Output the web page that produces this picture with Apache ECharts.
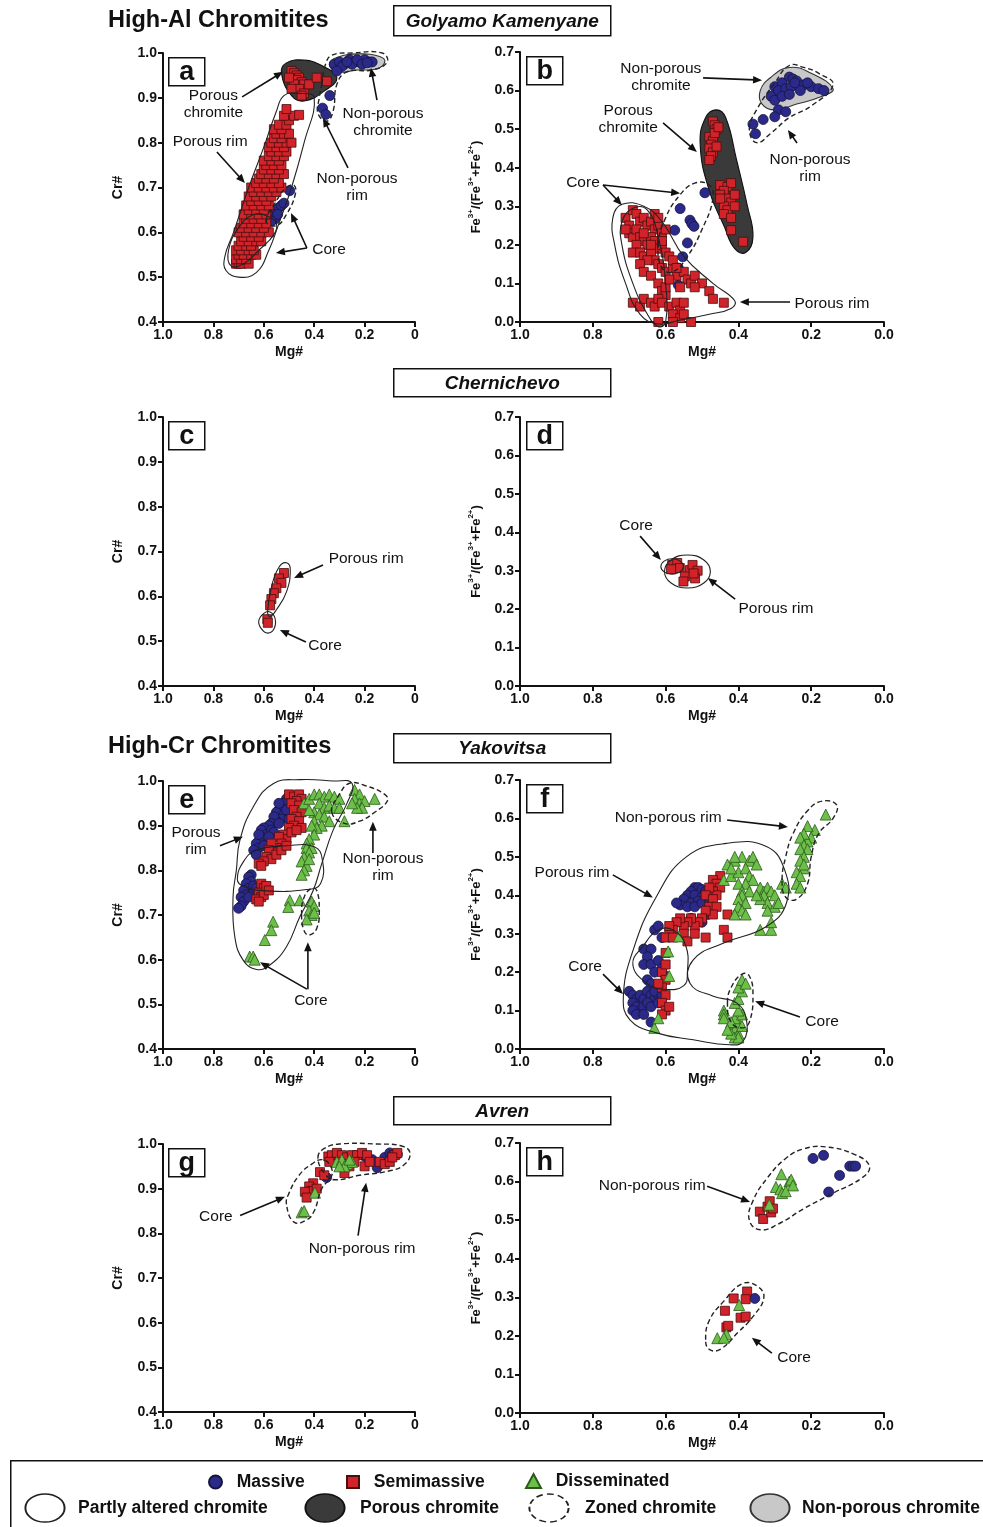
<!DOCTYPE html>
<html><head><meta charset="utf-8">
<script src="https://cdn.jsdelivr.net/npm/echarts@6/dist/echarts.min.js"></script>
<style>html,body{margin:0;padding:0;background:#fff}#c{width:983px;height:1527px}</style>
</head><body><div id="c"></div>
<script>
// ---------------- DATA (x = Mg#, y = Cr# or Fe3+/(Fe3++Fe2+)) ----------------
const xTicks = [1.0, 0.8, 0.6, 0.4, 0.2, 0];
const crTicks = [0.4, 0.5, 0.6, 0.7, 0.8, 0.9, 1.0];
const feTicks = [0.0, 0.1, 0.2, 0.3, 0.4, 0.5, 0.6, 0.7];

// Panel a : Golyamo Kamenyane, Cr# vs Mg#
const a_massive = [[0.32,0.975],[0.30,0.98],[0.28,0.975],[0.26,0.985],[0.24,0.98],[0.22,0.98],[0.20,0.985],[0.18,0.98],[0.17,0.98],[0.25,0.975],[0.29,0.97],[0.31,0.96],[0.23,0.985],[0.21,0.975],[0.19,0.978],[0.27,0.98],
 [0.338,0.905],[0.367,0.877],[0.354,0.863],
 [0.57,0.635],[0.56,0.645],[0.55,0.65],[0.54,0.655],[0.53,0.66],[0.52,0.665],[0.555,0.63],[0.545,0.64],[0.57,0.625],[0.497,0.693]];
const a_semimassive = [
 [0.49,0.96],[0.48,0.955],[0.47,0.95],[0.46,0.945],[0.47,0.94],[0.45,0.935],[0.44,0.93],[0.48,0.93],[0.46,0.92],[0.44,0.91],[0.45,0.905],[0.42,0.93],[0.39,0.945],[0.35,0.937],[0.50,0.945],[0.49,0.92],
 [0.71,0.53],[0.70,0.53],[0.69,0.53],[0.66,0.53],[0.71,0.54],[0.69,0.54],[0.67,0.54],[0.70,0.55],[0.68,0.55],[0.65,0.55],[0.63,0.55],
 [0.71,0.56],[0.69,0.56],[0.66,0.56],[0.64,0.56],[0.70,0.57],[0.67,0.57],[0.65,0.57],[0.69,0.58],[0.66,0.58],[0.63,0.58],[0.61,0.58],
 [0.68,0.59],[0.65,0.59],[0.62,0.59],[0.70,0.60],[0.67,0.60],[0.64,0.60],[0.61,0.60],[0.58,0.60],[0.69,0.61],[0.66,0.61],[0.63,0.61],[0.60,0.61],
 [0.68,0.62],[0.65,0.62],[0.62,0.62],[0.59,0.62],[0.67,0.63],[0.64,0.63],[0.61,0.63],[0.68,0.64],[0.65,0.64],[0.62,0.64],[0.59,0.64],
 [0.66,0.65],[0.63,0.65],[0.60,0.65],[0.67,0.66],[0.64,0.66],[0.61,0.66],[0.58,0.66],[0.65,0.67],[0.62,0.67],[0.59,0.67],
 [0.66,0.68],[0.63,0.68],[0.60,0.68],[0.57,0.68],[0.64,0.69],[0.61,0.69],[0.58,0.69],[0.55,0.69],[0.65,0.70],[0.62,0.70],[0.59,0.70],[0.56,0.70],[0.53,0.70],
 [0.63,0.71],[0.60,0.71],[0.57,0.71],[0.54,0.71],[0.62,0.72],[0.59,0.72],[0.56,0.72],[0.61,0.73],[0.58,0.73],[0.55,0.73],[0.52,0.73],
 [0.60,0.74],[0.57,0.74],[0.54,0.74],[0.59,0.75],[0.56,0.75],[0.53,0.75],[0.60,0.76],[0.57,0.76],[0.54,0.76],[0.58,0.77],[0.55,0.77],[0.52,0.77],
 [0.57,0.78],[0.54,0.78],[0.51,0.78],[0.58,0.79],[0.55,0.79],[0.52,0.79],[0.57,0.80],[0.54,0.80],[0.51,0.80],[0.49,0.80],
 [0.56,0.81],[0.53,0.81],[0.55,0.82],[0.52,0.82],[0.50,0.82],[0.56,0.83],[0.53,0.83],[0.54,0.84],[0.51,0.84],[0.50,0.85],[0.52,0.86],[0.48,0.86],[0.46,0.862],[0.51,0.875]];

// Panel b : Golyamo Kamenyane, Fe3+ ratio vs Mg#
const b_massive = [[0.30,0.61],[0.28,0.62],[0.26,0.635],[0.25,0.63],[0.24,0.625],[0.22,0.615],[0.20,0.61],[0.18,0.605],[0.165,0.60],[0.29,0.60],[0.27,0.605],[0.23,0.60],[0.21,0.62],[0.31,0.585],[0.30,0.575],[0.28,0.585],[0.255,0.61],[0.29,0.55],[0.27,0.545],[0.245,0.62],[0.26,0.59],
 [0.36,0.513],[0.353,0.488],[0.332,0.525],[0.30,0.532],
 [0.56,0.294],[0.492,0.335],[0.533,0.264],[0.528,0.255],[0.522,0.248],[0.575,0.238],[0.54,0.205],[0.553,0.169],[0.565,0.14],[0.567,0.125],[0.565,0.096]];
const b_semimassive = [
 [0.47,0.52],[0.465,0.51],[0.46,0.50],[0.48,0.48],[0.47,0.47],[0.475,0.46],[0.48,0.45],[0.47,0.44],[0.475,0.43],[0.48,0.42],[0.465,0.49],[0.455,0.505],[0.46,0.455],
 [0.45,0.355],[0.43,0.35],[0.42,0.36],[0.44,0.34],[0.45,0.33],[0.43,0.32],[0.42,0.31],[0.44,0.30],[0.43,0.29],[0.45,0.32],[0.41,0.33],[0.44,0.28],[0.42,0.27],[0.41,0.30],[0.42,0.238],[0.387,0.208],
 [0.71,0.27],[0.70,0.25],[0.69,0.29],[0.68,0.28],[0.67,0.26],[0.70,0.23],[0.69,0.22],[0.68,0.24],[0.66,0.27],[0.65,0.25],[0.64,0.26],[0.63,0.24],[0.62,0.25],[0.61,0.23],[0.60,0.24],
 [0.67,0.22],[0.66,0.21],[0.65,0.20],[0.64,0.22],[0.63,0.21],[0.62,0.19],[0.61,0.20],[0.60,0.18],[0.59,0.17],[0.68,0.20],[0.69,0.18],[0.67,0.18],[0.66,0.17],[0.64,0.18],
 [0.63,0.16],[0.62,0.15],[0.61,0.14],[0.60,0.13],[0.58,0.14],[0.57,0.12],[0.55,0.13],[0.54,0.11],[0.53,0.10],[0.52,0.12],[0.50,0.10],[0.48,0.08],[0.47,0.06],[0.44,0.05],
 [0.65,0.16],[0.67,0.15],[0.66,0.13],[0.64,0.12],[0.62,0.10],[0.61,0.08],[0.60,0.07],[0.69,0.05],[0.67,0.04],[0.66,0.06],[0.64,0.05],[0.63,0.04],[0.62,0.06],[0.61,0.05],
 [0.59,0.04],[0.57,0.05],[0.56,0.03],[0.55,0.05],[0.58,0.02],[0.56,0.01],[0.55,0.02],[0.62,0.0],[0.53,0.0],[0.58,0.0],[0.60,0.09],[0.59,0.11],[0.56,0.09],
 [0.63,0.28],[0.62,0.27],[0.66,0.23],[0.61,0.21],[0.71,0.24],[0.64,0.20],[0.58,0.16],[0.57,0.14],[0.52,0.09]];

// Panel c : Chernichevo, Cr# vs Mg#
const c_semimassive = [[0.52,0.652],[0.54,0.64],[0.53,0.63],[0.55,0.618],[0.56,0.607],[0.57,0.594],[0.575,0.58],[0.586,0.549],[0.584,0.541]];

// Panel d : Chernichevo, Fe3+ ratio vs Mg#
const d_semimassive = [[0.582,0.315],[0.568,0.32],[0.561,0.307],[0.585,0.304],[0.533,0.302],[0.526,0.315],[0.512,0.30],[0.547,0.285],[0.551,0.272],[0.519,0.28],[0.523,0.293]];

// Panel e : Yakovitsa, Cr# vs Mg#
const e_massive = [[0.51,0.96],[0.52,0.95],[0.53,0.94],[0.54,0.935],[0.55,0.93],[0.52,0.925],[0.53,0.915],[0.55,0.91],[0.56,0.92],[0.57,0.905],[0.58,0.90],[0.60,0.895],[0.61,0.89],[0.59,0.88],[0.60,0.87],[0.61,0.875],[0.62,0.865],[0.63,0.86],[0.62,0.85],[0.64,0.845],[0.63,0.835],[0.57,0.89],[0.56,0.885],[0.54,0.905],[0.50,0.915],[0.51,0.935],[0.54,0.95],[0.58,0.875],[0.62,0.88],[0.60,0.855],
 [0.65,0.79],[0.66,0.785],[0.65,0.775],[0.67,0.77],[0.66,0.76],[0.68,0.755],[0.64,0.765],[0.67,0.745],[0.69,0.74],[0.68,0.73],[0.69,0.72],[0.70,0.715],[0.64,0.75],[0.63,0.76],[0.66,0.74]];
const e_semimassive = [[0.50,0.97],[0.48,0.965],[0.46,0.97],[0.45,0.96],[0.47,0.955],[0.49,0.95],[0.46,0.945],[0.48,0.935],[0.45,0.93],[0.47,0.92],[0.49,0.915],[0.46,0.91],[0.48,0.90],[0.45,0.895],[0.50,0.895],[0.52,0.88],[0.51,0.87],[0.54,0.875],[0.53,0.86],[0.55,0.85],[0.57,0.86],[0.56,0.84],[0.58,0.845],[0.59,0.83],[0.57,0.825],[0.60,0.82],[0.62,0.815],[0.61,0.81],[0.55,0.835],[0.53,0.845],[0.51,0.855],[0.49,0.885],[0.47,0.89],
 [0.61,0.77],[0.60,0.76],[0.62,0.75],[0.61,0.74],[0.63,0.735],[0.60,0.745],[0.62,0.73],[0.59,0.765],[0.58,0.755]];
const e_disseminated = [[0.44,0.95],[0.42,0.96],[0.40,0.97],[0.38,0.97],[0.36,0.965],[0.34,0.97],[0.32,0.965],[0.30,0.96],[0.38,0.95],[0.36,0.94],[0.34,0.945],[0.32,0.94],[0.40,0.93],[0.38,0.925],[0.36,0.92],[0.34,0.91],[0.30,0.94],[0.28,0.91],[0.42,0.935],[0.40,0.91],[0.37,0.90],[0.39,0.895],[0.41,0.90],[0.40,0.88],[0.42,0.87],[0.43,0.86],[0.41,0.85],
 [0.24,0.98],[0.22,0.97],[0.24,0.96],[0.22,0.95],[0.20,0.955],[0.21,0.94],[0.23,0.94],[0.16,0.96],[0.25,0.95],
 [0.43,0.85],[0.42,0.84],[0.44,0.83],[0.45,0.82],[0.43,0.81],[0.44,0.80],[0.45,0.79],[0.42,0.825],
 [0.497,0.733],[0.457,0.733],[0.503,0.718],[0.563,0.685],[0.57,0.666],[0.596,0.644],[0.656,0.607],[0.642,0.607],[0.636,0.60],
 [0.41,0.73],[0.40,0.72],[0.42,0.71],[0.41,0.70],[0.43,0.69],[0.40,0.705]];

// Panel f : Yakovitsa, Fe3+ ratio vs Mg#
const f_massive = [[0.52,0.42],[0.51,0.42],[0.50,0.415],[0.49,0.41],[0.53,0.41],[0.54,0.40],[0.52,0.40],[0.50,0.395],[0.55,0.39],[0.53,0.38],[0.51,0.385],[0.56,0.375],[0.54,0.37],[0.52,0.37],[0.50,0.38],[0.48,0.39],[0.485,0.35],[0.50,0.33],[0.53,0.34],[0.57,0.38],
 [0.63,0.31],[0.62,0.32],[0.61,0.29],[0.66,0.26],[0.64,0.26],[0.65,0.24],[0.66,0.22],[0.64,0.22],[0.62,0.23],[0.61,0.21],[0.60,0.19],[0.63,0.20],[0.65,0.18],[0.64,0.17],
 [0.70,0.15],[0.69,0.14],[0.68,0.13],[0.67,0.14],[0.66,0.13],[0.65,0.15],[0.64,0.14],[0.63,0.13],[0.69,0.12],[0.68,0.11],[0.67,0.10],[0.66,0.11],[0.65,0.12],[0.64,0.11],[0.62,0.14],[0.63,0.15],[0.69,0.10],[0.68,0.09],[0.66,0.09],[0.64,0.07],[0.62,0.12],[0.61,0.14]];
const f_semimassive = [[0.45,0.45],[0.47,0.44],[0.46,0.43],[0.45,0.42],[0.47,0.41],[0.46,0.40],[0.48,0.42],[0.49,0.40],[0.47,0.39],[0.48,0.37],[0.46,0.37],[0.47,0.35],[0.49,0.36],[0.50,0.34],[0.51,0.33],[0.52,0.32],[0.53,0.34],[0.54,0.33],[0.55,0.32],[0.56,0.34],[0.57,0.33],[0.58,0.31],[0.59,0.30],[0.60,0.29],[0.59,0.32],[0.58,0.29],[0.55,0.30],[0.54,0.28],[0.43,0.35],[0.44,0.31],[0.43,0.29],[0.49,0.29],[0.52,0.30],
 [0.60,0.25],[0.61,0.20],[0.60,0.18],[0.61,0.16],[0.60,0.14],[0.61,0.12],[0.60,0.10],[0.61,0.09],[0.59,0.11],[0.62,0.17],[0.60,0.22]];
const f_disseminated = [[0.44,0.44],[0.42,0.45],[0.40,0.46],[0.41,0.49],[0.39,0.50],[0.37,0.49],[0.36,0.50],[0.35,0.48],[0.38,0.47],[0.37,0.45],[0.36,0.44],[0.38,0.43],[0.40,0.43],[0.39,0.41],[0.37,0.41],[0.39,0.40],[0.40,0.39],[0.38,0.38],[0.40,0.37],[0.39,0.36],[0.41,0.35],[0.38,0.35],
 [0.34,0.42],[0.33,0.41],[0.32,0.42],[0.31,0.41],[0.33,0.40],[0.30,0.40],[0.32,0.38],[0.30,0.37],[0.34,0.39],[0.35,0.40],[0.28,0.43],[0.27,0.42],[0.29,0.38],[0.34,0.31],[0.31,0.31],[0.31,0.33],[0.32,0.36],[0.43,0.48],[0.42,0.47],[0.41,0.50],
 [0.16,0.61],[0.19,0.57],[0.20,0.55],[0.21,0.58],[0.21,0.54],[0.22,0.56],[0.23,0.55],[0.22,0.53],[0.21,0.52],[0.23,0.52],[0.22,0.50],[0.23,0.49],[0.22,0.47],[0.24,0.46],[0.23,0.45],[0.24,0.43],[0.23,0.42],[0.22,0.48],
 [0.44,0.10],[0.44,0.09],[0.44,0.08],[0.42,0.06],[0.41,0.05],[0.40,0.04],[0.41,0.03],[0.40,0.03],[0.42,0.04],[0.40,0.07],[0.41,0.08],[0.39,0.09],[0.40,0.10],[0.41,0.12],[0.40,0.13],[0.39,0.15],[0.40,0.16],[0.39,0.18],[0.38,0.17],[0.42,0.07],[0.39,0.06],[0.43,0.05],
 [0.563,0.293],[0.593,0.254],[0.59,0.19],[0.631,0.055],[0.62,0.08]];

// Panel g : Avren, Cr# vs Mg#
const g_massive = [[0.351,0.925],[0.199,0.972],[0.17,0.965],[0.15,0.947],[0.12,0.97],[0.10,0.98],[0.09,0.975],[0.07,0.977]];
const g_semimassive = [[0.344,0.972],[0.33,0.975],[0.31,0.98],[0.29,0.975],[0.27,0.97],[0.25,0.975],[0.23,0.975],[0.21,0.98],[0.19,0.975],[0.30,0.96],[0.28,0.955],[0.26,0.95],[0.24,0.96],[0.20,0.95],[0.18,0.96],[0.14,0.96],[0.12,0.955],[0.10,0.96],[0.08,0.975],[0.07,0.98],[0.09,0.97],[0.34,0.96],[0.28,0.935],
 [0.377,0.937],[0.36,0.93],[0.404,0.912],[0.42,0.905],[0.41,0.895],[0.39,0.90],[0.437,0.893],[0.43,0.88]];
const g_disseminated = [[0.31,0.96],[0.29,0.965],[0.27,0.955],[0.25,0.96],[0.28,0.95],[0.30,0.95],[0.26,0.965],[0.397,0.891],[0.45,0.847],[0.44,0.85]];

// Panel h : Avren, Fe3+ ratio vs Mg#
const h_massive = [[0.195,0.66],[0.166,0.668],[0.122,0.616],[0.152,0.573],[0.094,0.64],[0.085,0.64],[0.078,0.64],[0.355,0.297]];
const h_semimassive = [[0.341,0.522],[0.332,0.503],[0.32,0.535],[0.314,0.549],[0.31,0.52],[0.305,0.53],[0.413,0.297],[0.376,0.315],[0.38,0.295],[0.437,0.265],[0.394,0.247],[0.38,0.25],[0.433,0.222],[0.428,0.226]];
const h_disseminated = [[0.282,0.619],[0.297,0.586],[0.285,0.58],[0.28,0.57],[0.26,0.60],[0.255,0.605],[0.25,0.59],[0.27,0.575],[0.315,0.54],[0.398,0.28],[0.433,0.204],[0.458,0.194],[0.44,0.195]];

// Envelopes (outline vertices in data units) : kind = partly | porous | zoned | nonporous
const a_envelopes = [
 {kind:'porous', pts:[[0.53,0.955],[0.51,0.978],[0.44,0.984],[0.37,0.972],[0.31,0.945],[0.36,0.915],[0.44,0.893],[0.49,0.905]]},
 {kind:'nonporous', pts:[[0.34,0.975],[0.31,0.99],[0.22,0.998],[0.14,0.992],[0.12,0.98],[0.15,0.965],[0.23,0.962],[0.31,0.958]]},
 {kind:'partly', pts:[[0.755,0.545],[0.72,0.60],[0.66,0.70],[0.60,0.79],[0.55,0.87],[0.52,0.905],[0.46,0.91],[0.40,0.90],[0.44,0.80],[0.49,0.70],[0.54,0.62],[0.58,0.56],[0.63,0.51],[0.70,0.50],[0.75,0.515]]},
 {kind:'partly', pts:[[0.74,0.56],[0.70,0.61],[0.64,0.64],[0.58,0.635],[0.55,0.62],[0.56,0.595],[0.62,0.56],[0.68,0.53],[0.73,0.525]]},
 {kind:'zoned', pts:[[0.59,0.625],[0.55,0.67],[0.51,0.70],[0.48,0.705],[0.475,0.685],[0.51,0.64],[0.55,0.615]]},
 {kind:'zoned', pts:[[0.37,0.93],[0.355,0.975],[0.33,0.995],[0.25,1.0],[0.13,1.0],[0.11,0.98],[0.17,0.962],[0.27,0.958],[0.31,0.93],[0.325,0.87],[0.35,0.848],[0.385,0.865],[0.38,0.90]]}
];
const b_envelopes = [
 {kind:'porous', pts:[[0.505,0.46],[0.49,0.53],[0.46,0.55],[0.435,0.53],[0.405,0.42],[0.375,0.30],[0.36,0.22],[0.38,0.18],[0.41,0.19],[0.44,0.25],[0.48,0.34]]},
 {kind:'nonporous', pts:[[0.34,0.60],[0.31,0.635],[0.26,0.66],[0.20,0.645],[0.14,0.605],[0.17,0.585],[0.24,0.565],[0.30,0.55],[0.335,0.565]]},
 {kind:'zoned', pts:[[0.37,0.50],[0.35,0.55],[0.30,0.62],[0.26,0.665],[0.22,0.66],[0.18,0.645],[0.14,0.615],[0.20,0.56],[0.26,0.53],[0.31,0.49],[0.35,0.465]]},
 {kind:'partly', pts:[[0.745,0.27],[0.72,0.305],[0.66,0.30],[0.61,0.26],[0.55,0.17],[0.47,0.10],[0.41,0.055],[0.42,0.035],[0.48,0.02],[0.56,0.005],[0.62,-0.005],[0.67,0.02],[0.71,0.10],[0.74,0.20]]},
 {kind:'partly', pts:[[0.72,0.26],[0.69,0.295],[0.65,0.29],[0.62,0.22],[0.60,0.10],[0.60,0.0],[0.62,-0.012],[0.65,0.02],[0.69,0.10],[0.72,0.20]]},
 {kind:'zoned', pts:[[0.62,0.20],[0.60,0.27],[0.56,0.33],[0.52,0.36],[0.48,0.355],[0.47,0.32],[0.50,0.24],[0.54,0.17],[0.58,0.13],[0.61,0.14]]}
];
const c_envelopes = [
 {kind:'partly', pts:[[0.585,0.565],[0.57,0.62],[0.54,0.665],[0.51,0.675],[0.495,0.66],[0.51,0.61],[0.55,0.57],[0.575,0.555]]},
 {kind:'partly', pts:[[0.62,0.545],[0.60,0.562],[0.575,0.565],[0.555,0.55],[0.56,0.527],[0.585,0.518],[0.61,0.528]]}
];
const d_envelopes = [
 {kind:'partly', pts:[[0.603,0.298],[0.585,0.328],[0.54,0.341],[0.495,0.328],[0.477,0.298],[0.495,0.268],[0.54,0.255],[0.585,0.268]]},
 {kind:'partly', pts:[[0.613,0.311],[0.604,0.325],[0.582,0.331],[0.56,0.325],[0.551,0.311],[0.56,0.297],[0.582,0.291],[0.604,0.297]]}
];
const e_envelopes = [
 {kind:'partly', pts:[[0.722,0.741],[0.709,0.80],[0.695,0.867],[0.642,0.942],[0.563,0.994],[0.457,1.003],[0.325,1.0],[0.25,0.995],[0.27,0.95],[0.325,0.89],[0.37,0.815],[0.404,0.755],[0.457,0.696],[0.51,0.629],[0.576,0.588],[0.629,0.578],[0.682,0.599],[0.715,0.651]]},
 {kind:'partly', pts:[[0.705,0.78],[0.68,0.82],[0.629,0.845],[0.51,0.855],[0.40,0.853],[0.368,0.825],[0.375,0.77],[0.43,0.757],[0.59,0.754],[0.68,0.764]]},
 {kind:'zoned', pts:[[0.33,0.93],[0.30,0.97],[0.26,0.995],[0.20,0.99],[0.12,0.97],[0.11,0.955],[0.16,0.93],[0.22,0.91],[0.28,0.905]]},
 {kind:'zoned', pts:[[0.45,0.70],[0.44,0.74],[0.41,0.76],[0.39,0.755],[0.38,0.71],[0.39,0.67],[0.42,0.655],[0.44,0.665]]}
];
const f_envelopes = [
 {kind:'partly', pts:[[0.716,0.137],[0.689,0.258],[0.625,0.397],[0.543,0.50],[0.433,0.535],[0.323,0.527],[0.273,0.466],[0.268,0.38],[0.323,0.319],[0.442,0.275],[0.524,0.232],[0.533,0.171],[0.469,0.137],[0.405,0.12],[0.378,0.076],[0.387,0.02],[0.424,0.011],[0.524,0.024],[0.625,0.042],[0.698,0.076]]},
 {kind:'partly', pts:[[0.69,0.22],[0.66,0.27],[0.62,0.31],[0.58,0.31],[0.545,0.27],[0.54,0.20],[0.55,0.165],[0.60,0.155],[0.65,0.17]]},
 {kind:'zoned', pts:[[0.28,0.44],[0.27,0.50],[0.25,0.56],[0.21,0.62],[0.17,0.645],[0.13,0.635],[0.14,0.60],[0.18,0.56],[0.20,0.50],[0.21,0.43],[0.24,0.39],[0.27,0.395]]},
 {kind:'zoned', pts:[[0.43,0.12],[0.42,0.16],[0.39,0.195],[0.37,0.19],[0.36,0.14],[0.37,0.07],[0.39,0.055],[0.42,0.07]]}
];
const g_envelopes = [
 {kind:'zoned', pts:[[0.385,0.97],[0.36,0.99],[0.30,1.0],[0.15,1.0],[0.05,0.995],[0.02,0.98],[0.04,0.955],[0.10,0.94],[0.22,0.93],[0.32,0.92],[0.36,0.935]]},
 {kind:'zoned', pts:[[0.51,0.865],[0.50,0.89],[0.46,0.93],[0.41,0.955],[0.37,0.965],[0.34,0.955],[0.33,0.93],[0.37,0.90],[0.40,0.85],[0.43,0.83],[0.48,0.825]]}
];
const h_envelopes = [
 {kind:'zoned', pts:[[0.37,0.50],[0.36,0.55],[0.32,0.61],[0.27,0.66],[0.22,0.685],[0.16,0.69],[0.08,0.67],[0.04,0.64],[0.06,0.61],[0.14,0.57],[0.22,0.53],[0.29,0.49],[0.34,0.475]]},
 {kind:'zoned', pts:[[0.49,0.19],[0.48,0.24],[0.44,0.29],[0.39,0.335],[0.35,0.33],[0.33,0.30],[0.36,0.25],[0.40,0.21],[0.45,0.165],[0.48,0.165]]}
];

// Annotations (label position and arrows in data units)
const a_notes = [
 {t:'Porous\nchromite', p:[0.80,0.886], ar:[[0.686,0.902,0.524,0.958]]},
 {t:'Porous rim', p:[0.813,0.801], ar:[[0.786,0.779,0.675,0.71]]},
 {t:'Non-porous\nchromite', p:[0.127,0.846], ar:[[0.151,0.895,0.175,0.967]]},
 {t:'Non-porous\nrim', p:[0.23,0.70], ar:[[0.266,0.744,0.365,0.855]]},
 {t:'Core', p:[0.341,0.561], ar:[[0.429,0.565,0.552,0.554],[0.429,0.565,0.492,0.643]]}];
const b_notes = [
 {t:'Non-porous\nchromite', p:[0.613,0.635], ar:[[0.497,0.633,0.335,0.627]]},
 {t:'Porous\nchromite', p:[0.703,0.526], ar:[[0.607,0.516,0.514,0.441]]},
 {t:'Non-porous\nrim', p:[0.203,0.399], ar:[[0.239,0.464,0.264,0.498]]},
 {t:'Core', p:[0.827,0.36], ar:[[0.772,0.355,0.56,0.334],[0.772,0.355,0.72,0.303]]},
 {t:'Porous rim', p:[0.143,0.047], ar:[[0.258,0.052,0.396,0.052]]}];
const c_notes = [
 {t:'Porous rim', p:[0.194,0.683], ar:[[0.365,0.670,0.48,0.641]]},
 {t:'Core', p:[0.357,0.489], ar:[[0.433,0.498,0.536,0.525]]}];
const d_notes = [
 {t:'Core', p:[0.681,0.417], ar:[[0.67,0.39,0.613,0.328]]},
 {t:'Porous rim', p:[0.297,0.202], ar:[[0.409,0.226,0.484,0.281]]}];
const e_notes = [
 {t:'Porous\nrim', p:[0.869,0.866], ar:[[0.774,0.855,0.683,0.875]]},
 {t:'Non-porous\nrim', p:[0.127,0.806], ar:[[0.167,0.839,0.167,0.909]]},
 {t:'Core', p:[0.413,0.509], ar:[[0.429,0.534,0.615,0.594],[0.425,0.534,0.425,0.639]]}];
const f_notes = [
 {t:'Non-porous rim', p:[0.593,0.601], ar:[[0.431,0.596,0.264,0.578]]},
 {t:'Porous rim', p:[0.857,0.459], ar:[[0.745,0.453,0.635,0.394]]},
 {t:'Core', p:[0.821,0.213], ar:[[0.772,0.195,0.717,0.143]]},
 {t:'Core', p:[0.17,0.07], ar:[[0.231,0.083,0.354,0.124]]}];
const g_notes = [
 {t:'Core', p:[0.79,0.837], ar:[[0.694,0.84,0.516,0.882]]},
 {t:'Non-porous rim', p:[0.21,0.766], ar:[[0.226,0.795,0.194,0.913]]}];
const h_notes = [
 {t:'Non-porous rim', p:[0.637,0.589], ar:[[0.486,0.588,0.368,0.547]]},
 {t:'Core', p:[0.247,0.143], ar:[[0.308,0.155,0.363,0.195]]}];

const panelLetters = ['a','b','c','d','e','f','g','h'];
const localityNames = ['Golyamo Kamenyane','Chernichevo','Yakovitsa','Avren'];
const groupTitles = ['High-Al Chromitites','High-Cr Chromitites'];
const legendMarkers = ['Massive','Semimassive','Disseminated'];
const legendEnvelopes = ['Partly altered chromite','Porous chromite','Zoned chromite','Non-porous chromite'];

// ---------------- CHART ----------------
const FONT = '"Liberation Sans", Arial, Helvetica, sans-serif';
const INK = '#111';
const panels = [
 {m:a_massive, s:a_semimassive, d:[], env:a_envelopes, notes:a_notes},
 {m:b_massive, s:b_semimassive, d:[], env:b_envelopes, notes:b_notes},
 {m:[], s:c_semimassive, d:[], env:c_envelopes, notes:c_notes},
 {m:[], s:d_semimassive, d:[], env:d_envelopes, notes:d_notes},
 {m:e_massive, s:e_semimassive, d:e_disseminated, env:e_envelopes, notes:e_notes},
 {m:f_massive, s:f_semimassive, d:f_disseminated, env:f_envelopes, notes:f_notes},
 {m:g_massive, s:g_semimassive, d:g_disseminated, env:g_envelopes, notes:g_notes},
 {m:h_massive, s:h_semimassive, d:h_disseminated, env:h_envelopes, notes:h_notes}
];
const GRIDS = [
 {left:163, top:53, width:252, height:269},
 {left:520, top:52, width:364, height:270},
 {left:163, top:417, width:252, height:269},
 {left:520, top:417, width:364, height:269},
 {left:163, top:781, width:252, height:268},
 {left:520, top:780, width:364, height:269},
 {left:163, top:1144, width:252, height:268},
 {left:520, top:1143, width:364, height:270}
];
const ENV_STYLE = {
 partly:{fill:'rgba(0,0,0,0)', stroke:'#222', lineWidth:1.1},
 porous:{fill:'#3a3a3a', stroke:'#111', lineWidth:1.1},
 zoned:{fill:'rgba(0,0,0,0)', stroke:'#222', lineWidth:1.4, lineDash:[5,3]},
 nonporous:{fill:'#c8c8c8', stroke:'#333', lineWidth:1.1}
};
const MARK = {
 Massive:{symbol:'circle', size:10, color:'#2b2a8a', border:'#15153a'},
 Semimassive:{symbol:'rect', size:9, color:'#d1232a', border:'#4a0e0e'},
 Disseminated:{symbol:'triangle', size:11, color:'#6cbf48', border:'#2c5a1c'}
};
const axisText = {fontWeight:'bold', fontSize:14, fontFamily:FONT, color:INK};

const xAxis = GRIDS.map((g,i)=>({
 gridIndex:i, type:'value', min:0, max:1, interval:0.2, inverse:true, position:'bottom',
 name:'Mg#', nameLocation:'middle', nameGap:23, nameTextStyle:axisText,
 axisLine:{onZero:false, lineStyle:{color:INK, width:2}},
 axisTick:{length:5, lineStyle:{color:INK, width:2}},
 axisLabel:Object.assign({margin:6, formatter: v => (i%2===0 && Math.abs(v)<1e-9) ? '0' : v.toFixed(1)}, axisText),
 splitLine:{show:false}
}));
const yAxis = GRIDS.map((g,i)=>{
 const left = i%2===0;
 return {
  gridIndex:i, type:'value', min: left?0.4:0, max: left?1.0:0.7, interval:0.1, position:'left',
  name: left ? 'Cr#' : '{n|Fe}{s|3+}{n|/(Fe}{s|3+}{n|+Fe}{s|2+}{n|)}',
  nameLocation:'middle', nameGap: left?38:37,
  nameTextStyle: left ? axisText : {rich:{
    n:{fontSize:13, fontWeight:'bold', fontFamily:FONT, color:INK, lineHeight:16, verticalAlign:'bottom'},
    s:{fontSize:8, fontWeight:'bold', fontFamily:FONT, color:INK, lineHeight:8, verticalAlign:'top'}}},
  axisLine:{onZero:false, lineStyle:{color:INK, width:2}},
  axisTick:{length:5, lineStyle:{color:INK, width:2}},
  axisLabel:Object.assign({margin:6, formatter: v => v.toFixed(1)}, axisText),
  splitLine:{show:false}
 };
});

const series = [];
panels.forEach((p,i)=>{
 const back = p.env.filter(e=>e.kind==='porous'||e.kind==='nonporous');
 const front = p.env.filter(e=>e.kind==='partly'||e.kind==='zoned');
 const envSeries = (list, z) => ({
  type:'custom', xAxisIndex:i, yAxisIndex:i, z:z, silent:true, clip:false,
  data:list.map((e,k)=>[0.5,0.5,k]), encode:{x:0,y:1},
  renderItem:(params, api)=>{
    const e = list[api.value(2)];
    return {type:'polygon', shape:{points:e.pts.map(pt=>api.coord(pt)), smooth:0.45},
            style:Object.assign({}, ENV_STYLE[e.kind])};
  }
 });
 if (back.length) series.push(envSeries(back, 1));
 [['Massive',p.m],['Semimassive',p.s],['Disseminated',p.d]].forEach(([name,data])=>{
   if (!data.length) return;
   const mk = MARK[name];
   series.push({name, type:'scatter', xAxisIndex:i, yAxisIndex:i, z:2, data, symbol:mk.symbol, symbolSize:mk.size,
     itemStyle:{color:mk.color, borderColor:mk.border, borderWidth:0.8, opacity:1}, emphasis:{disabled:true}});
 });
 if (front.length) series.push(envSeries(front, 3));
 series.push({
  type:'custom', xAxisIndex:i, yAxisIndex:i, z:5, silent:true, clip:false,
  data:p.notes.map((n,k)=>[0.5,0.5,k]), encode:{x:0,y:1},
  renderItem:(params, api)=>{
    const n = p.notes[api.value(2)];
    const c = api.coord(n.p);
    const children = [{type:'text', x:c[0], y:c[1], style:{text:n.t, fontSize:15.5, fontFamily:FONT, fill:INK, align:'center', verticalAlign:'middle', lineHeight:17}}];
    n.ar.forEach(a=>{
      const s = api.coord([a[0],a[1]]), e = api.coord([a[2],a[3]]);
      const dx = e[0]-s[0], dy = e[1]-s[1], L = Math.hypot(dx,dy), ux = dx/L, uy = dy/L;
      const hl = 9, hw = 3.8;
      const bx = e[0]-ux*hl, by = e[1]-uy*hl;
      children.push({type:'line', shape:{x1:s[0], y1:s[1], x2:bx+ux*2, y2:by+uy*2}, style:{stroke:INK, lineWidth:1.6}});
      children.push({type:'polygon', shape:{points:[[e[0],e[1]],[bx-uy*hw,by+ux*hw],[bx+uy*hw,by-ux*hw]]}, style:{fill:INK}});
    });
    return {type:'group', children};
  }
 });
});

// chrome: titles, locality boxes, panel letters, legend envelopes
const graphic = [];
graphic.push({type:'text', left:108, top:9, style:{text:groupTitles[0], font:'bold 23.5px '+FONT, fill:INK}});
graphic.push({type:'text', left:108, top:735, style:{text:groupTitles[1], font:'bold 23.5px '+FONT, fill:INK}});
[[5,30],[368,28],[733,29],[1096,28]].forEach((b,k)=>{
 graphic.push({type:'group', left:393, top:b[0], children:[
  {type:'rect', shape:{x:0, y:0, width:217, height:b[1]}, style:{fill:'#fff', stroke:INK, lineWidth:1.5}},
  {type:'text', x:108.5, y:b[1]/2+1, style:{text:localityNames[k], font:'italic bold 19px '+FONT, fill:INK, align:'center', verticalAlign:'middle'}}
 ]});
});
GRIDS.forEach((g,i)=>{
 const x = i%2===0 ? 168 : 526;
 graphic.push({type:'group', left:x, top:g.top+4, children:[
  {type:'rect', shape:{x:0, y:0, width:36, height:28}, style:{fill:'#fff', stroke:INK, lineWidth:1.5}},
  {type:'text', x:18, y:15, style:{text:panelLetters[i], font:'bold 27px '+FONT, fill:INK, align:'center', verticalAlign:'middle'}}
 ]});
});
graphic.push({type:'rect', left:10, top:1460, shape:{x:0,y:0,width:985,height:80}, style:{fill:'#fff', stroke:INK, lineWidth:1.5}, z:-1});
const envLegend = [
 {cx:45, tx:78, st:ENV_STYLE.partly},
 {cx:325, tx:360, st:ENV_STYLE.porous},
 {cx:549, tx:585, st:ENV_STYLE.zoned},
 {cx:770, tx:802, st:ENV_STYLE.nonporous}
];
envLegend.forEach((e,k)=>{
 const st = Object.assign({}, e.st, {lineWidth:1.4});
 if (k===0) st.fill = '#fff';
 graphic.push({type:'circle', x:e.cx, y:1508, scaleX:1.4, shape:{cx:0, cy:0, r:14}, style:st});
 graphic.push({type:'text', x:e.tx, y:1508, style:{text:legendEnvelopes[k], font:'bold 17.5px '+FONT, fill:INK, verticalAlign:'middle'}});
});

const legTxt = {fontWeight:'bold', fontSize:17.5, fontFamily:FONT, color:INK};
const legend = [
 {data:[legendMarkers[0]], left:203, top:1468, icon:'circle', itemWidth:13, itemHeight:13, selectedMode:false, textStyle:legTxt, formatter:n=>'  '+n},
 {data:[legendMarkers[1]], left:341, top:1468, icon:'rect', itemWidth:12, itemHeight:12, selectedMode:false, textStyle:legTxt, formatter:n=>'  '+n},
 {data:[legendMarkers[2]], left:520, top:1467, icon:'triangle', itemWidth:15, itemHeight:14, selectedMode:false, textStyle:legTxt, formatter:n=>'  '+n}
];

const chart = echarts.init(document.getElementById('c'), null, {renderer:'canvas'});
chart.setOption({
 animation:false, backgroundColor:'#fff',
 grid:GRIDS.map(g=>Object.assign({containLabel:false}, g)),
 xAxis, yAxis, series, graphic, legend
});
</script></body></html>
